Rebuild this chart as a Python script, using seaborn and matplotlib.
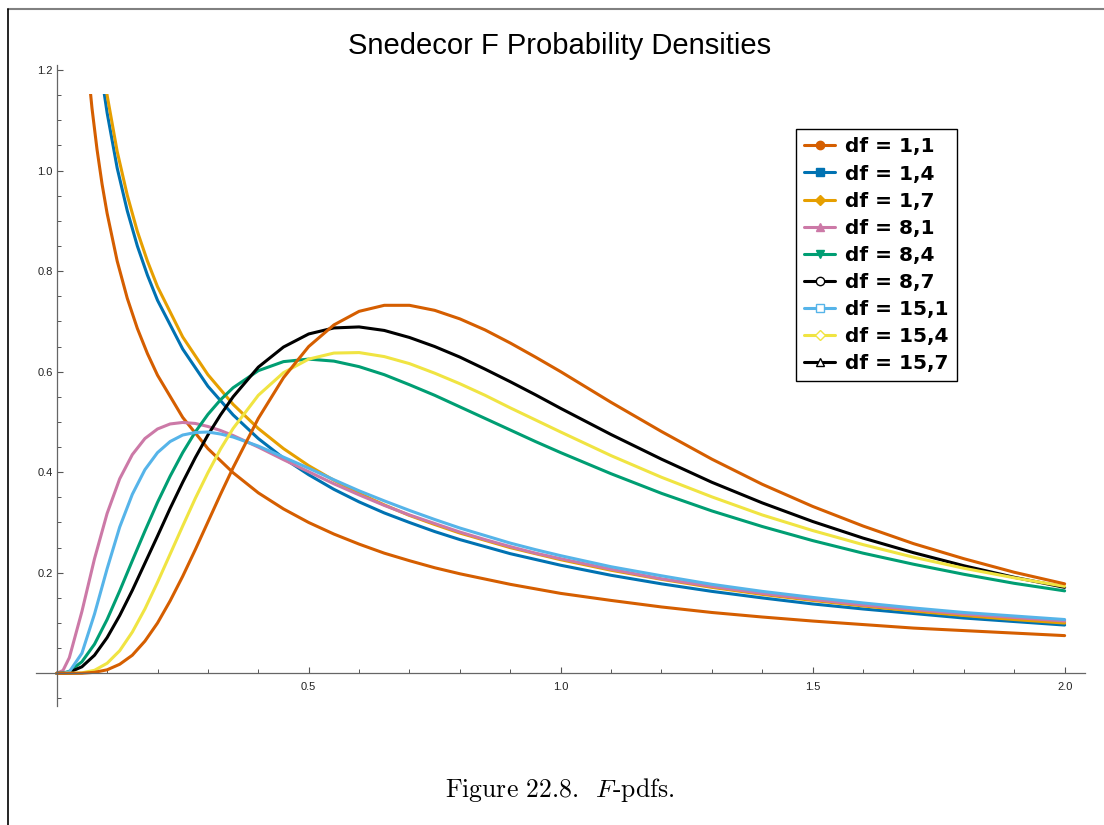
import matplotlib
matplotlib.use("Agg")
import matplotlib.pyplot as plt
from matplotlib.lines import Line2D
from matplotlib.patches import Rectangle
from matplotlib.ticker import MultipleLocator
import pandas as pd
import seaborn as sns

# values
x_fall = [0.06, 0.07, 0.08, 0.09, 0.1, 0.12, 0.14, 0.16, 0.18, 0.2, 0.25, 0.3, 0.35, 0.4,
          0.45, 0.5, 0.55, 0.6, 0.65, 0.7, 0.75, 0.8, 0.9, 1.0, 1.1, 1.2, 1.3, 1.4, 1.5, 1.6,
          1.7, 1.8, 1.9, 2.0]
x_rise = [0, 0.0125, 0.025, 0.05, 0.075, 0.1, 0.125, 0.15, 0.175, 0.2, 0.225, 0.25, 0.275,
          0.3, 0.325, 0.35, 0.4, 0.45, 0.5, 0.55, 0.6, 0.65, 0.7, 0.75, 0.8, 0.85, 0.9, 0.95,
          1.0, 1.1, 1.2, 1.3, 1.4, 1.5, 1.6, 1.7, 1.8, 1.9, 2.0]

df_1_1 = [1.226, 1.124, 1.042, 0.973, 0.915, 0.820, 0.746, 0.686, 0.636, 0.593, 0.509, 0.447,
          0.399, 0.359, 0.327, 0.300, 0.277, 0.257, 0.239, 0.224, 0.210, 0.198, 0.177, 0.159,
          0.145, 0.132, 0.121, 0.112, 0.104, 0.097, 0.090, 0.085, 0.080, 0.075]
df_1_4 = [1.475, 1.357, 1.262, 1.182, 1.115, 1.005, 0.920, 0.850, 0.792, 0.742, 0.645, 0.571,
          0.514, 0.467, 0.428, 0.395, 0.366, 0.341, 0.319, 0.300, 0.282, 0.266, 0.238, 0.215,
          0.195, 0.178, 0.163, 0.150, 0.138, 0.128, 0.119, 0.110, 0.103, 0.096]
df_1_7 = [1.519, 1.398, 1.301, 1.219, 1.150, 1.038, 0.951, 0.879, 0.820, 0.769, 0.669, 0.594,
          0.535, 0.487, 0.447, 0.413, 0.384, 0.358, 0.335, 0.314, 0.296, 0.279, 0.250, 0.226,
          0.205, 0.187, 0.171, 0.157, 0.145, 0.134, 0.124, 0.115, 0.107, 0.100]
df_8_1 = [0, 0.0057, 0.031, 0.123, 0.228, 0.318, 0.387, 0.435, 0.467, 0.486, 0.496, 0.499,
          0.497, 0.491, 0.483, 0.473, 0.450, 0.425, 0.401, 0.377, 0.355, 0.334, 0.315, 0.298,
          0.281, 0.266, 0.252, 0.239, 0.228, 0.207, 0.188, 0.173, 0.159, 0.147, 0.136, 0.127,
          0.118, 0.111, 0.104]
df_8_4 = [0, 0.0005, 0.004, 0.023, 0.058, 0.107, 0.164, 0.224, 0.283, 0.340, 0.392, 0.439,
          0.480, 0.515, 0.544, 0.568, 0.602, 0.620, 0.625, 0.621, 0.610, 0.594, 0.574, 0.553,
          0.530, 0.507, 0.484, 0.461, 0.439, 0.397, 0.358, 0.323, 0.292, 0.264, 0.239, 0.217,
          0.197, 0.179, 0.164]
df_8_7 = [0, 0.0003, 0.002, 0.013, 0.036, 0.071, 0.115, 0.165, 0.219, 0.273, 0.328, 0.380,
          0.429, 0.474, 0.514, 0.550, 0.609, 0.649, 0.675, 0.687, 0.689, 0.682, 0.668, 0.650,
          0.629, 0.605, 0.580, 0.554, 0.527, 0.475, 0.426, 0.380, 0.339, 0.302, 0.269, 0.240,
          0.214, 0.191, 0.171]
df_15_1 = [0, 0.0001, 0.003, 0.040, 0.118, 0.208, 0.291, 0.356, 0.405, 0.439, 0.461, 0.474,
           0.479, 0.480, 0.476, 0.470, 0.452, 0.430, 0.408, 0.385, 0.363, 0.343, 0.324, 0.306,
           0.289, 0.274, 0.259, 0.246, 0.234, 0.212, 0.194, 0.177, 0.163, 0.151, 0.140, 0.130,
           0.121, 0.114, 0.107]
df_15_4 = [0, 0, 0, 0.001, 0.006, 0.020, 0.045, 0.082, 0.128, 0.181, 0.237, 0.293, 0.348,
           0.399, 0.446, 0.487, 0.553, 0.598, 0.625, 0.637, 0.638, 0.630, 0.616, 0.597, 0.576,
           0.553, 0.528, 0.504, 0.480, 0.433, 0.390, 0.351, 0.315, 0.284, 0.256, 0.231, 0.209,
           0.190, 0.173]
df_15_7 = [0, 0, 0, 0.0002, 0.002, 0.007, 0.018, 0.036, 0.064, 0.100, 0.144, 0.193, 0.246,
           0.301, 0.356, 0.409, 0.507, 0.588, 0.650, 0.693, 0.720, 0.732, 0.732, 0.722, 0.705,
           0.683, 0.657, 0.629, 0.600, 0.539, 0.481, 0.426, 0.376, 0.332, 0.293, 0.258, 0.228,
           0.201, 0.178]

labels = ["df = 1,1", "df = 1,4", "df = 1,7", "df = 8,1", "df = 8,4", "df = 8,7",
          "df = 15,1", "df = 15,4", "df = 15,7"]
curves = [(x_fall, df_1_1), (x_fall, df_1_4), (x_fall, df_1_7), (x_rise, df_8_1),
          (x_rise, df_8_4), (x_rise, df_8_7), (x_rise, df_15_1), (x_rise, df_15_4),
          (x_rise, df_15_7)]

line_colors = ["#D55E00", "#0072B2", "#E69F00", "#CC79A7", "#009E73", "#000000",
               "#56B4E9", "#F0E442", "#D55E00"]
key_colors = ["#D55E00", "#0072B2", "#E69F00", "#CC79A7", "#009E73", "#000000",
              "#56B4E9", "#F0E442", "#000000"]
key_markers = ["o", "s", "D", "^", "v", "o", "s", "D", "^"]
key_filled = [True, True, True, True, True, False, False, False, False]

rows = []
for lab, (xs, ys) in zip(labels, curves):
    for xv, yv in zip(xs, ys):
        rows.append((lab, xv, yv))
data = pd.DataFrame(rows, columns=["df", "x", "density"])

sns.set_style("white")
plt.rcParams["font.family"] = ["Liberation Sans", "DejaVu Sans"]
plt.rcParams["mathtext.fontset"] = "cm"
plt.rcParams["text.color"] = "black"

fig = plt.figure(figsize=(11.04, 8.25), dpi=100)
ax = fig.add_axes([36 / 1104, 1 - 706 / 825, 1049 / 1104, 640.5 / 825])

sns.lineplot(data=data, x="x", y="density", hue="df", hue_order=labels,
             palette=dict(zip(labels, line_colors)), estimator=None, sort=False,
             legend=False, linewidth=2.2, ax=ax)

# curves are cut off a bit below the top of the axis, like the original
clip = Rectangle((-1, -1), 4, 2.153, transform=ax.transData)
for ln in ax.lines:
    ln.set_clip_path(clip)
    ln.set_solid_joinstyle("round")

ax.set_xlim(-0.0411, 2.0404)
ax.set_ylim(-0.065, 1.209)
ax.set_xlabel("")
ax.set_ylabel("")

for side in ["top", "right"]:
    ax.spines[side].set_visible(False)
for side in ["left", "bottom"]:
    ax.spines[side].set_position(("data", 0))
    ax.spines[side].set_color("#666666")
    ax.spines[side].set_linewidth(0.9)

ax.set_xticks([0.5, 1.0, 1.5, 2.0])
ax.set_yticks([0.2, 0.4, 0.6, 0.8, 1.0, 1.2])
ax.xaxis.set_minor_locator(MultipleLocator(0.1))
ax.yaxis.set_minor_locator(MultipleLocator(0.05))
ax.tick_params(which="both", bottom=True, left=True, top=False, right=False)
ax.tick_params(which="major", direction="in", length=4.5, width=0.8, color="#555555",
               labelcolor="#222222", labelsize=8, pad=3)
ax.tick_params(which="minor", direction="in", length=2.8, width=0.7, color="#555555")
ax.tick_params(axis="x", which="major", pad=6)

handles = []
for c, m, f in zip(key_colors, key_markers, key_filled):
    handles.append(Line2D([0], [0], color=c, lw=2.2, marker=m,
                          markersize=6 if m != "D" else 5,
                          markerfacecolor=c if f else "white",
                          markeredgecolor=c, markeredgewidth=1.0))
leg = ax.legend(handles, labels, loc="upper left", bbox_to_anchor=(796 / 1104, 1 - 129 / 825),
                bbox_transform=fig.transFigure, borderaxespad=0, frameon=True, fancybox=False,
                framealpha=1, edgecolor="black", labelcolor="black",
                prop={"family": "DejaVu Sans", "weight": "bold", "size": 14.5},
                handlelength=1.5, handletextpad=0.5, labelspacing=0.40, borderpad=0.42)
leg.get_frame().set_linewidth(1.0)

fig.text(560 / 1104, 1 - 46 / 825, "Snedecor F Probability Densities", ha="center",
         va="center", fontsize=21)
fig.text(560 / 1104, 1 - 790 / 825, "Figure 22.8.  $F$-pdfs.", ha="center", va="center",
         fontsize=18.5, family="cmr10")

# page border pieces visible in the scan
fig.add_artist(Line2D([8 / 1104, 1], [1 - 9 / 825, 1 - 9 / 825], color="#808080", lw=1.5,
                      transform=fig.transFigure))
fig.add_artist(Line2D([8 / 1104, 8 / 1104], [0, 1 - 9 / 825], color="black", lw=1.2,
                      transform=fig.transFigure))

fig.savefig("out.png", dpi=100)
